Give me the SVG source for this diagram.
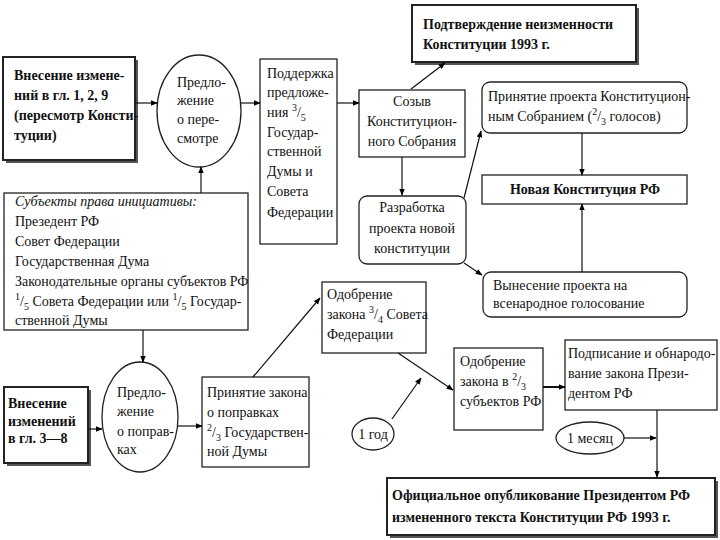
<svg xmlns="http://www.w3.org/2000/svg" width="720" height="540" viewBox="0 0 720 540" font-family="Liberation Serif">
<defs>
<marker id="ah" viewBox="0 0 10 10" refX="9" refY="5" markerWidth="7" markerHeight="7" orient="auto" markerUnits="userSpaceOnUse">
<path d="M0,1 L10,5 L0,9 z" fill="#000"/>
</marker>
<style>
.t{font-family:'Liberation Serif',serif;font-size:14px;fill:#111}
.b{font-weight:bold}
.i{font-style:italic}
.m{text-anchor:middle}
.box{fill:#fff;stroke:#222;stroke-width:1.3}
.bold{fill:#fff;stroke:#222;stroke-width:2}
.sh{fill:#555}
.c line{stroke:#111;stroke-width:1.2;marker-end:url(#ah)}
.sup{font-size:10px}
</style>
</defs>
<rect width="720" height="540" fill="#fff"/>

<g id="n-vnesenie129">
<rect class="sh" x="6" y="60" width="132" height="103"/>
<rect class="bold" x="3" y="57" width="132" height="103"/>
<text class="t b" x="14" y="80">Внесение измене-</text>
<text class="t b" x="14" y="100">ний в гл. 1, 2, 9</text>
<text class="t b" x="14" y="120">(пересмотр Консти-</text>
<text class="t b" x="14" y="140">туции)</text>
</g>

<g id="n-predl-peresmotr">
<ellipse class="box" cx="199" cy="111" rx="42" ry="56"/>
<text class="t" x="177" y="87">Предло-</text>
<text class="t" x="177" y="105">жение</text>
<text class="t" x="177" y="124">о пере-</text>
<text class="t" x="177" y="143">смотре</text>
</g>

<g id="n-podderzhka">
<rect class="box" x="260" y="59" width="77" height="185"/>
<text class="t" x="267" y="78">Поддержка</text>
<text class="t" x="267" y="97">предложе-</text>
<text class="t" x="267" y="117">ния <tspan class="sup" dy="-6">3</tspan><tspan dy="6">/</tspan><tspan class="sup" dy="4">5</tspan></text>
<text class="t" x="267" y="137">Государ-</text>
<text class="t" x="267" y="156">ственной</text>
<text class="t" x="267" y="176">Думы и</text>
<text class="t" x="267" y="196">Совета</text>
<text class="t" x="267" y="217">Федерации</text>
</g>

<g id="n-sozyv">
<rect class="box" x="359" y="90" width="106" height="67"/>
<text class="t m" x="412" y="106">Созыв</text>
<text class="t m" x="412" y="126">Конституцион-</text>
<text class="t m" x="412" y="146">ного Собрания</text>
</g>

<g id="n-podtverzhdenie">
<rect class="sh" x="415" y="8" width="224" height="57"/>
<rect class="bold" x="412" y="5" width="224" height="57"/>
<text class="t b" x="423" y="29">Подтверждение неизменности</text>
<text class="t b" x="423" y="49">Конституции 1993 г.</text>
</g>

<g id="n-prinyatie-proekta">
<rect class="box" x="482" y="82" width="205" height="51" rx="8"/>
<text class="t" x="488" y="101">Принятие проекта Конституцион-</text>
<text class="t" x="488" y="121">ным Собранием (<tspan class="sup" dy="-6">2</tspan><tspan dy="6">/</tspan><tspan class="sup" dy="4">3</tspan><tspan dy="-4"> голосов)</tspan></text>
</g>

<g id="n-novaya">
<rect class="box" x="482" y="175" width="205" height="29"/>
<text class="t b m" x="585" y="194">Новая Конституция РФ</text>
</g>

<g id="n-razrabotka">
<rect class="box" x="359" y="196" width="107" height="68" rx="8"/>
<text class="t m" x="412" y="212">Разработка</text>
<text class="t m" x="412" y="233">проекта новой</text>
<text class="t m" x="412" y="253">конституции</text>
</g>

<g id="n-vynesenie">
<rect class="box" x="483" y="272" width="204" height="45" rx="8"/>
<text class="t" x="493" y="290">Вынесение проекта на</text>
<text class="t" x="493" y="308">всенародное голосование</text>
</g>

<g id="n-subekty">
<rect class="box" x="4" y="193" width="244" height="137"/>
<text class="t i" x="15" y="206">Субъекты права инициативы:</text>
<text class="t" x="15" y="226">Презедент РФ</text>
<text class="t" x="15" y="246">Совет Федерации</text>
<text class="t" x="15" y="266">Государственная Дума</text>
<text class="t" x="15" y="286">Законодательные органы субъектов РФ</text>
<text class="t" x="15" y="306"><tspan class="sup" dy="-6">1</tspan><tspan dy="6">/</tspan><tspan class="sup" dy="4">5</tspan><tspan dy="-4"> Совета Федерации или </tspan><tspan class="sup" dy="-6">1</tspan><tspan dy="6">/</tspan><tspan class="sup" dy="4">5</tspan><tspan dy="-4"> Государ-</tspan></text>
<text class="t" x="15" y="325">ственной Думы</text>
</g>

<g id="n-vnesenie38">
<rect class="sh" x="7" y="390" width="84" height="76"/>
<rect class="bold" x="4" y="387" width="84" height="76"/>
<text class="t b" x="8" y="408">Внесение</text>
<text class="t b" x="8" y="426">изменений</text>
<text class="t b" x="8" y="443">в гл. 3—8</text>
</g>

<g id="n-predl-popravki">
<ellipse class="box" cx="140" cy="417" rx="38" ry="55"/>
<text class="t" x="117" y="397">Предло-</text>
<text class="t" x="117" y="416">жение</text>
<text class="t" x="117" y="436">о поправ-</text>
<text class="t" x="117" y="454">ках</text>
</g>

<g id="n-prinyatie-zakona">
<rect class="box" x="202" y="377" width="107" height="90"/>
<text class="t" x="207" y="397">Принятие закона</text>
<text class="t" x="207" y="417">о поправках</text>
<text class="t" x="207" y="437"><tspan class="sup" dy="-6">2</tspan><tspan dy="6">/</tspan><tspan class="sup" dy="4">3</tspan><tspan dy="-4"> Государствен-</tspan></text>
<text class="t" x="207" y="456">ной Думы</text>
</g>

<g id="n-odobrenie34">
<rect class="box" x="322" y="282" width="104" height="71"/>
<text class="t" x="327" y="299">Одобрение</text>
<text class="t" x="327" y="319">закона <tspan class="sup" dy="-6">3</tspan><tspan dy="6">/</tspan><tspan class="sup" dy="4">4</tspan><tspan dy="-4"> Совета</tspan></text>
<text class="t" x="327" y="339">Федерации</text>
</g>

<g id="n-odobrenie23">
<rect class="box" x="454" y="348" width="89" height="82"/>
<text class="t" x="460" y="366">Одобрение</text>
<text class="t" x="460" y="386">закона в <tspan class="sup" dy="-6">2</tspan><tspan dy="6">/</tspan><tspan class="sup" dy="4">3</tspan></text>
<text class="t" x="460" y="406">субъектов РФ</text>
</g>

<g id="n-podpisanie">
<rect class="box" x="565" y="340" width="152" height="70"/>
<text class="t" x="568" y="358">Подписание и обнародо-</text>
<text class="t" x="568" y="378">вание закона Прези-</text>
<text class="t" x="568" y="398">дентом РФ</text>
</g>

<g id="n-1god">
<ellipse class="box" cx="373" cy="434" rx="21" ry="16"/>
<text class="t m" x="373" y="439">1 год</text>
</g>

<g id="n-1mesyac">
<ellipse class="box" cx="590" cy="438" rx="34" ry="16"/>
<text class="t m" x="590" y="443">1 месяц</text>
</g>

<g id="n-oficialnoe">
<rect class="sh" x="390" y="481" width="328" height="57"/>
<rect class="bold" x="387" y="478" width="328" height="57"/>
<text class="t b" x="392" y="500">Официальное опубликование Президентом РФ</text>
<text class="t b" x="392" y="522">измененного текста Конституции РФ 1993 г.</text>
</g>

<g class="c" id="connectors">
<line x1="135" y1="103" x2="157" y2="103"/>
<line x1="241" y1="103" x2="260" y2="103"/>
<line x1="337" y1="103" x2="359" y2="103"/>
<line x1="411" y1="89" x2="445" y2="63"/>
<line x1="402" y1="157" x2="402" y2="195"/>
<line x1="464" y1="198" x2="481" y2="131"/>
<line x1="582" y1="133" x2="582" y2="175"/>
<line x1="464" y1="263" x2="482" y2="275"/>
<line x1="582" y1="272" x2="582" y2="204"/>
<line x1="201" y1="193" x2="201" y2="167"/>
<line x1="143" y1="330" x2="143" y2="362"/>
<line x1="88" y1="429" x2="102" y2="429"/>
<line x1="178" y1="426" x2="202" y2="426"/>
<line x1="253" y1="377" x2="320" y2="298"/>
<line x1="398" y1="353" x2="453" y2="390"/>
<line x1="392" y1="419" x2="421" y2="378"/>
<line x1="543" y1="387" x2="565" y2="387" style="stroke-width:2"/>
<line x1="657" y1="410" x2="657" y2="477"/>
<line x1="624" y1="438" x2="656" y2="438"/>
</g>
</svg>
